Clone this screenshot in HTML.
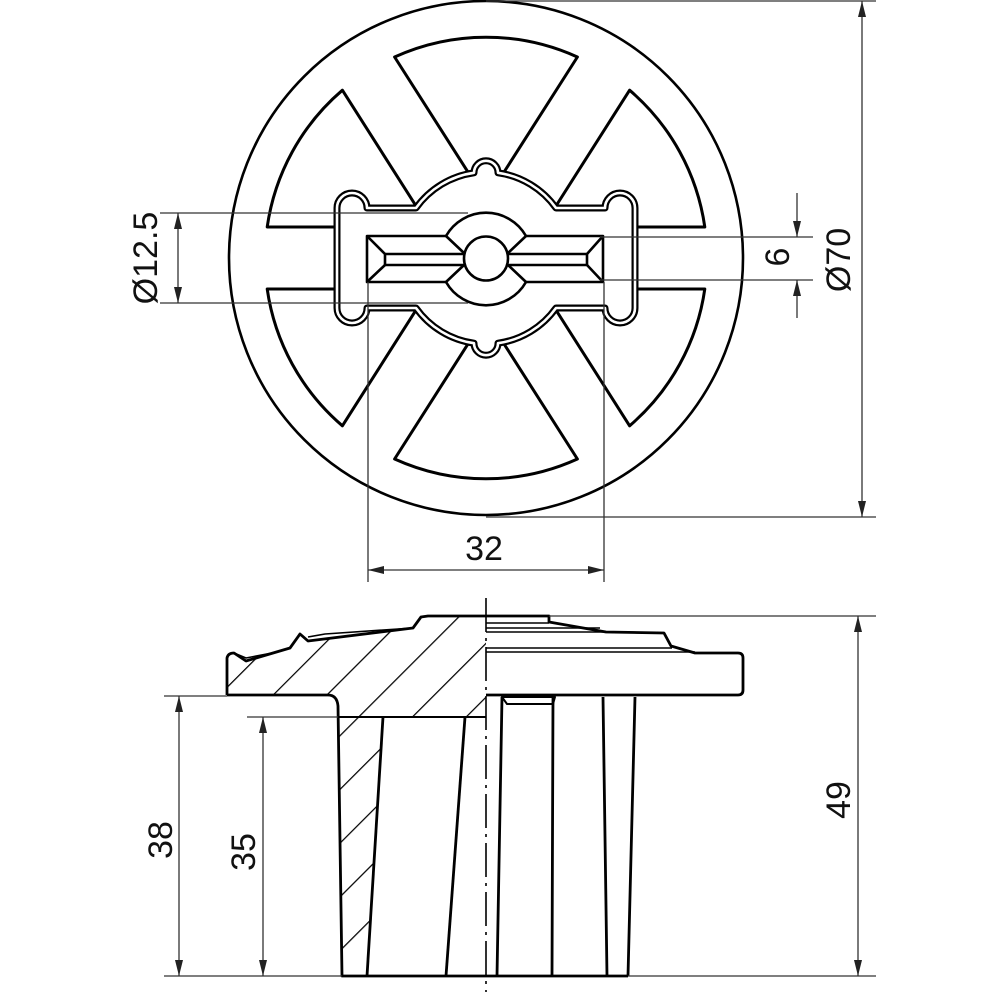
<!DOCTYPE html>
<html><head><meta charset="utf-8"><style>
html,body{margin:0;padding:0;background:#fff;}
svg{display:block;}
text{font-family:"Liberation Sans","DejaVu Sans",sans-serif;font-size:34px;fill:#111;}
</style></head><body>
<svg width="1000" height="1000" viewBox="0 0 1000 1000" xmlns="http://www.w3.org/2000/svg">
<defs>
<pattern id="hat" patternUnits="userSpaceOnUse" width="38" height="38" patternTransform="rotate(-45)">
<line x1="0" y1="0" x2="38" y2="0" stroke="#000" stroke-width="2.4"/>
</pattern>
</defs>
<g fill="none" stroke="#000" stroke-linejoin="round">
<!-- TOP VIEW -->
<circle cx="486" cy="258" r="257" stroke-width="2.6"/>
<!-- windows -->
<g stroke-width="3">
<path d="M542.6,227 L704.8,227 A221,221 0 0 0 629.6,90.2 Z"/>
<path d="M486,200.3 L577.4,57 A221,221 0 0 0 394.6,57 Z"/>
<path d="M429.4,227 L342.4,90.2 A221,221 0 0 0 267.2,227 Z"/>
<path d="M429.4,289 L267.2,289 A221,221 0 0 0 342.4,425.8 Z"/>
<path d="M486,315.7 L394.6,459 A221,221 0 0 0 577.4,459 Z"/>
<path d="M542.6,289 L629.6,425.8 A221,221 0 0 0 704.8,289 Z"/>
</g>
<!-- hub -->
<path id="hub" d="M337,208 A15,15 0 0 1 367,208 L416,208 A86,86 0 0 1 474,172.8 A12,12 0 0 1 498,172.8 A86,86 0 0 1 556,208 L605,208 A15,15 0 0 1 635,208 L635,308 A15,15 0 0 1 605,308 L556,308 A86,86 0 0 1 498,343.2 A12,12 0 0 1 474,343.2 A86,86 0 0 1 416,308 L367,308 A15,15 0 0 1 337,308 Z" fill="#fff" stroke-width="7"/>
<path d="M337,208 A15,15 0 0 1 367,208 L416,208 A86,86 0 0 1 474,172.8 A12,12 0 0 1 498,172.8 A86,86 0 0 1 556,208 L605,208 A15,15 0 0 1 635,208 L635,308 A15,15 0 0 1 605,308 L556,308 A86,86 0 0 1 498,343.2 A12,12 0 0 1 474,343.2 A86,86 0 0 1 416,308 L367,308 A15,15 0 0 1 337,308 Z" stroke="#fff" stroke-width="2.6"/>
<!-- slot -->
<g stroke-width="2.6">
<path d="M446,236 L367,236 L367,282 L446,282"/>
<path d="M526,236 L603,236 L603,282 L526,282"/>
<path d="M446,236 A46,46 0 0 1 526,236 M446,282 A46,46 0 0 0 526,282"/>
<path d="M446,236 L464,253 M526,236 L508,253 M446,282 L464,265 M526,282 L508,265"/>
<path d="M465,254 L385,254 L385,265 L465,265 M507,254 L587,254 L587,265 L507,265"/>
<path d="M367,236 L385,254 M603,236 L587,254 M367,282 L385,265 M603,282 L587,265"/>
<circle cx="486" cy="258.5" r="22" fill="#fff"/>
</g>
<!-- top dims -->
<g stroke-width="1.3" stroke="#333">
<line x1="160" y1="213" x2="468" y2="213"/>
<line x1="160" y1="303" x2="468" y2="303"/>
<line x1="178" y1="213" x2="178" y2="303"/>
<line x1="368" y1="282" x2="368" y2="582"/>
<line x1="604" y1="282" x2="604" y2="582"/>
<line x1="368" y1="570" x2="604" y2="570"/>
<line x1="600" y1="237" x2="813" y2="237"/>
<line x1="600" y1="280" x2="813" y2="280"/>
<line x1="797" y1="193" x2="797" y2="237"/>
<line x1="797" y1="280" x2="797" y2="318"/>
<line x1="486" y1="1" x2="876" y2="1"/>
<line x1="486" y1="517" x2="876" y2="517"/>
<line x1="862" y1="1" x2="862" y2="517"/>
</g>
<!-- BOTTOM VIEW -->
<!-- hatched section -->
<path d="M227,695 L227,658 Q228,653 234,653 L246,661 L290,648 L300,634 L308,641 L413,628 L421,617 L428,616 L486,616 L486,717 L383,717 L367,976 L342,976 L338,706 Q336,695 328,695 Z" fill="url(#hat)" stroke="none"/>
<path d="M227,695 L227,658 Q228,653 234,653 L246,661 L290,648 L300,634 L308,641 L413,628 L421,617 L428,616 L486,616" stroke-width="2.8"/>
<path d="M234,653 L246,658 L272,653 L290,648 M308,637 L325,634 L413,628" stroke-width="1.6"/>
<path d="M227,695 L328,695 Q337,695 338,706 L342,976 L486,976" stroke-width="2.8"/>
<path d="M383,717 L367,976" stroke-width="2.8"/>
<path d="M465,717 L446,976" stroke-width="2.8"/>
<path d="M338,717 L486,717" stroke-width="2"/>
<!-- right elevation -->
<path d="M486,695 L738,695 Q743,695 743,690 L743,658 Q743,653 738,653 L695,653 L671,646 L664,633 L606,632 L549,622 L549,616 L486,616" stroke-width="2.8"/>
<path d="M486,623 L549,623 M486,628 L600,628 M486,632 L606,632 M486,648 L672,648 M486,652 L695,652" stroke-width="1.6"/>
<path d="M486,976 L628,976" stroke-width="2.8"/>
<path d="M502,697 L497,976 M553,697 L552,976 M603,697 L607,976 M635,697 L628,976" stroke-width="2.8"/>
<path d="M502,697 L555,697 L553,704 L507,704 Z" stroke-width="2"/>
<!-- centerline -->
<line x1="486" y1="598" x2="486" y2="992" stroke-width="1.6" stroke-dasharray="34,6,3,6"/>
<!-- bottom dims -->
<g stroke-width="1.3" stroke="#333">
<line x1="164" y1="696" x2="227" y2="696"/>
<line x1="164" y1="976" x2="342" y2="976"/>
<line x1="179" y1="696" x2="179" y2="976"/>
<line x1="247" y1="717" x2="338" y2="717"/>
<line x1="263" y1="717" x2="263" y2="976"/>
<line x1="549" y1="616" x2="876" y2="616"/>
<line x1="628" y1="976" x2="876" y2="976"/>
<line x1="858" y1="616" x2="858" y2="976"/>
</g>
</g>
<!-- arrowheads -->
<g fill="#222">
<path d="M178,213 l-4,16 l8,0 Z"/><path d="M178,303 l-4,-16 l8,0 Z"/>
<path d="M368,570 l16,-4 l0,8 Z"/><path d="M604,570 l-16,-4 l0,8 Z"/>
<path d="M797,237 l-4,-16 l8,0 Z"/><path d="M797,280 l-4,16 l8,0 Z"/>
<path d="M862,1 l-4,16 l8,0 Z"/><path d="M862,517 l-4,-16 l8,0 Z"/>
<path d="M179,696 l-4,16 l8,0 Z"/><path d="M179,976 l-4,-16 l8,0 Z"/>
<path d="M263,717 l-4,16 l8,0 Z"/><path d="M263,976 l-4,-16 l8,0 Z"/>
<path d="M858,616 l-4,16 l8,0 Z"/><path d="M858,976 l-4,-16 l8,0 Z"/>
</g>
<!-- labels -->
<text x="484" y="560" text-anchor="middle">32</text>
<text transform="translate(157,258) rotate(-90)" text-anchor="middle">Ø12.5</text>
<text transform="translate(789,257) rotate(-90)" text-anchor="middle">6</text>
<text transform="translate(850,260) rotate(-90)" text-anchor="middle">Ø70</text>
<text transform="translate(172,840) rotate(-90)" text-anchor="middle">38</text>
<text transform="translate(255,852) rotate(-90)" text-anchor="middle">35</text>
<text transform="translate(850,800) rotate(-90)" text-anchor="middle">49</text>
</svg>
</body></html>
